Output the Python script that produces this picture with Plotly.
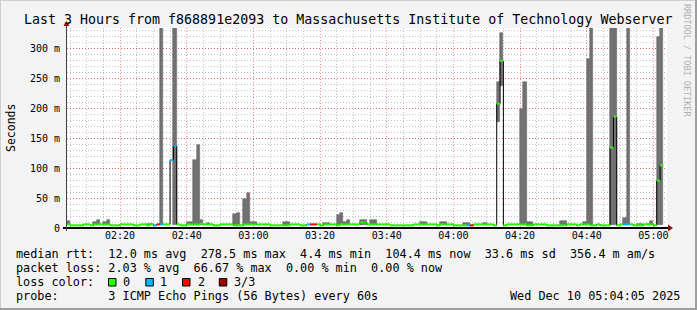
import plotly.graph_objects as go
from datetime import datetime, timedelta

# ---------------- data ----------------
T_MIN0 = datetime(2025, 12, 10, 2, 4, 0)      # start of first one-minute step
RANGE_START = datetime(2025, 12, 10, 2, 4, 5)
RANGE_END = datetime(2025, 12, 10, 5, 4, 5)

# median rtt per minute (ms), 180 steps from 02:04
median = [
    6.0, 4.4, 4.4, 4.4, 4.4, 6.0, 6.0, 4.4, 6.0, 6.0,
    6.0, 6.0, 6.0, 4.4, 4.4, 4.4, 6.0, 6.0, 6.0, 6.0,
    4.4, 4.4, 6.0, 6.0, 4.4, 6.0, 4.4, 6.0, 6.0, 6.0,
    6.0, 113.0, 137.0, 6.0, 4.4, 4.4, 6.0, 6.0, 6.0, 6.0,
    7.0, 6.0, 6.0, 6.0, 4.4, 4.4, 6.0, 6.0, 6.0, 6.0,
    4.4, 4.4, 4.4, 6.0, 6.0, 6.0, 6.0, 6.0, 6.0, 6.0,
    6.0, 4.4, 4.4, 4.4, 4.4, 4.4, 4.4, 6.0, 6.0, 6.0,
    4.4, 4.4, 6.0, 6.0, 6.0, 6.0, 4.4, 6.0, 6.0, 6.0,
    6.0, 4.4, 6.0, 6.0, 6.0, 6.0, 6.0, 6.0, 9.0, 9.0,
    6.0, 6.0, 6.0, 6.0, 6.0, 6.0, 6.0, 4.4, 4.4, 4.4,
    4.4, 4.4, 4.4, 4.4, 6.0, 6.0, 6.0, 6.0, 6.0, 6.0,
    6.0, 4.4, 6.0, 6.0, 6.0, 6.0, 4.4, 4.4, 4.4, 4.4,
    4.4, 4.4, 6.0, 6.0, 6.0, 6.0, 6.0, 6.0, 4.4, 207.0,
    278.5, 4.4, 6.0, 6.0, 6.0, 6.0, 6.0, 6.0, 4.4, 4.4,
    6.0, 6.0, 6.0, 6.0, 4.4, 4.4, 4.4, 4.4, 4.4, 4.4,
    6.0, 6.0, 6.0, 4.4, 6.0, 6.0, 6.0, 4.4, 4.4, 6.0,
    4.4, 4.4, 4.4, 134.0, 186.0, 4.4, 6.0, 6.0, 6.0, 6.0,
    4.4, 4.4, 4.4, 6.0, 6.0, 6.0, 4.4, 79.0, 104.4, None,
]

# lost pings (of 3) where not zero
loss_minute = [26, 27, 28, 31, 32, 72, 73, 74, 120, 121, 167, 168]
loss_count = [1, 2, 1, 1, 1, 1, 2, 2, 1, 2, 1, 1]

# smoke (ping spread) per minute: index, low (ms), high (ms)
smoke_minute = [0, 8, 9, 11, 12, 24, 25, 28, 32, 36, 37, 38, 39, 40, 42,
                50, 51, 53, 54, 55, 56, 65, 66, 77, 78, 81, 82, 83, 84,
                88, 89, 91, 92, 106, 107, 112, 113, 119, 120, 125, 129, 130,
                136, 137, 138, 139, 148, 149, 155, 156, 157, 163, 164, 167,
                168, 171, 172, 174, 175, 177, 178]
smoke_low = [4.4, 4.4, 4.4, 4.4, 4.4, 4.4, 4.4, 4.4, 4.4, 4.4, 4.4, 4.4, 4.4, 4.4, 4.4,
             4.4, 4.4, 4.4, 4.4, 4.4, 4.4, 4.4, 4.4, 4.4, 4.4, 4.4, 4.4, 4.4, 4.4,
             4.4, 4.4, 4.4, 4.4, 4.4, 4.4, 4.4, 4.4, 4.4, 4.4, 4.4, 177.0, 237.0,
             4.4, 4.4, 4.4, 4.4, 4.4, 4.4, 4.4, 4.4, 4.4, 4.4, 4.4, 4.4,
             4.4, 4.4, 4.4, 4.4, 4.4, 4.4, 4.4]
smoke_high = [11, 10.5, 13, 10.5, 13, 7, 7, 400, 400, 10, 10, 113, 138, 13, 8,
              23, 25, 48, 59, 10, 10, 9.5, 9.5, 8, 8, 22, 25, 10, 13,
              13, 13, 13, 13, 10, 10, 10, 10, 9, 9, 8, 243, 325,
              199, 244, 9.5, 9.5, 11.7, 11.7, 10, 281, 400, 400, 400, 17,
              400, 6.7, 6.7, 7.5, 11, 319, 400]

y_tick_vals = [0, 50, 100, 150, 200, 250, 300]
y_tick_text = ["0", "50 m", "100 m", "150 m", "200 m", "250 m", "300 m"]

loss_colors = {0: "#26ff00", 1: "#00b8ff", 2: "#ff0000", 3: "#a00000"}
loss_labels = ["0", "1", "2", "3/3"]

title_text = "Last 3 Hours from f868891e2093 to Massachusetts Institute of Technology Webserver"
legend_lines = [
    "median rtt:  12.0 ms avg  278.5 ms max  4.4 ms min  104.4 ms now  33.6 ms sd  356.4 m am/s",
    "packet loss: 2.03 % avg  66.67 % max  0.00 % min  0.00 % now",
    "loss color:",
    "probe:       3 ICMP Echo Pings (56 Bytes) every 60s",
]
date_text = "Wed Dec 10 05:04:05 2025"

# ---------------- geometry helpers (decoration only) ----------------
PL, PR, PT, PB = 67, 667, 28, 228
def px(p):
    return (p - PL) / (PR - PL)
def py(q):
    return (PB - q) / (PB - PT)

STEP = timedelta(minutes=1)
starts = [T_MIN0 + i * STEP for i in range(len(median))]

fig = go.Figure()

# smoke bars
fig.add_trace(go.Bar(
    x=[starts[i] + STEP / 2 for i in smoke_minute],
    y=[h - l for h, l in zip(smoke_high, smoke_low)],
    base=smoke_low,
    width=60000,
    marker=dict(color="#707070", line=dict(width=0.6, color="#707070")),
    hoverinfo="skip",
))

# black step median line
fig.add_trace(go.Scatter(
    x=starts + [starts[-1] + STEP],
    y=median + [median[-1]],
    mode="lines",
    line=dict(color="#000000", width=1, shape="hv"),
    connectgaps=False,
    hoverinfo="skip",
))

# colored median segments by loss
loss_of = {m: c for m, c in zip(loss_minute, loss_count)}
for c in range(4):
    xs, ys = [], []
    for i, m in enumerate(median):
        if m is None or loss_of.get(i, 0) != c:
            continue
        xs += [starts[i], starts[i] + STEP, None]
        ys += [m, m, None]
    if xs:
        fig.add_trace(go.Scatter(x=xs, y=ys, mode="lines",
                                 line=dict(color=loss_colors[c], width=2),
                                 hoverinfo="skip"))

MONO = "DejaVu Sans Mono"
shapes = []
# axes lines
shapes.append(dict(type="line", xref="paper", yref="paper", x0=px(63), x1=px(669),
                   y0=py(228), y1=py(228), line=dict(color="#000000", width=2)))
shapes.append(dict(type="line", xref="paper", yref="paper", x0=px(66.5), x1=px(66.5),
                   y0=py(231), y1=py(25), line=dict(color="#404040", width=1)))
# arrows
shapes.append(dict(type="path", xref="paper", yref="paper",
                   path=f"M {px(668)},{py(224.5)} L {px(673)},{py(228)} L {px(668)},{py(231.5)} Z",
                   fillcolor="#8b1010", line=dict(width=0)))
shapes.append(dict(type="path", xref="paper", yref="paper",
                   path=f"M {px(63.5)},{py(26)} L {px(66.5)},{py(21)} L {px(69.5)},{py(26)} Z",
                   fillcolor="#8b1010", line=dict(width=0)))
# frame shading
shapes.append(dict(type="line", xref="paper", yref="paper", x0=px(0), x1=px(697),
                   y0=py(0.5), y1=py(0.5), line=dict(color="#cfcfcf", width=1)))
shapes.append(dict(type="line", xref="paper", yref="paper", x0=px(0.5), x1=px(0.5),
                   y0=py(0), y1=py(310), line=dict(color="#cfcfcf", width=1)))
shapes.append(dict(type="line", xref="paper", yref="paper", x0=px(0), x1=px(697),
                   y0=py(309), y1=py(309), line=dict(color="#9e9e9e", width=2)))
shapes.append(dict(type="line", xref="paper", yref="paper", x0=px(696), x1=px(696),
                   y0=py(0), y1=py(310), line=dict(color="#9e9e9e", width=2)))

annotations = []
annotations.append(dict(text=title_text, xref="paper", yref="paper", x=px(348), y=py(19),
                        xanchor="center", yanchor="middle", showarrow=False,
                        font=dict(family=MONO, size=13.3, color="#000000")))
annotations.append(dict(text="Seconds", xref="paper", yref="paper", x=px(11), y=py(128),
                        xanchor="center", yanchor="middle", showarrow=False, textangle=-90,
                        font=dict(family=MONO, size=11.5, color="#000000")))
annotations.append(dict(text="RRDTOOL / TOBI OETIKER", xref="paper", yref="paper",
                        x=px(687), y=py(60), xanchor="center", yanchor="middle",
                        showarrow=False, textangle=90,
                        font=dict(family=MONO, size=8.5, color="#b0b0b0")))
line_y = [254, 268, 282, 296]
for txt, yy in zip(legend_lines, line_y):
    annotations.append(dict(text=txt.replace(" ", "&nbsp;"), xref="paper", yref="paper",
                            x=px(15), y=py(yy), xanchor="left", yanchor="middle",
                            showarrow=False, borderpad=0,
                            font=dict(family=MONO, size=11.8, color="#000000")))
annotations.append(dict(text=date_text, xref="paper", yref="paper", x=px(681), y=py(296),
                        xanchor="right", yanchor="middle", showarrow=False, borderpad=0,
                        font=dict(family=MONO, size=11.8, color="#000000")))
box_x = [108.5, 145.8, 182.5, 219.3]
lab_x = [122.0, 159.3, 196.5, 233.3]
for c, (bx, lx, lab) in enumerate(zip(box_x, lab_x, loss_labels)):
    shapes.append(dict(type="rect", xref="paper", yref="paper",
                       x0=px(bx), x1=px(bx + 7.5), y0=py(286), y1=py(278.5),
                       fillcolor=loss_colors[c], line=dict(color="#000000", width=1)))
    annotations.append(dict(text=lab, xref="paper", yref="paper", x=px(lx), y=py(282),
                            xanchor="left", yanchor="middle", showarrow=False, borderpad=0,
                            font=dict(family=MONO, size=11.8, color="#000000")))

fig.update_layout(
    width=697, height=310,
    margin=dict(l=PL, r=697 - PR, t=PT, b=310 - PB, pad=0),
    paper_bgcolor="#f3f3f3", plot_bgcolor="#ffffff",
    showlegend=False, bargap=0, barmode="overlay",
    shapes=shapes, annotations=annotations,
    xaxis=dict(
        type="date", range=[RANGE_START, RANGE_END],
        tickformat="%H:%M", dtick=20 * 60000, tick0="2025-12-10 02:00:00",
        showgrid=True, gridcolor="rgba(255,0,0,0.45)", griddash="1px,2px", gridwidth=1,
        minor=dict(dtick=5 * 60000, tick0="2025-12-10 02:00:00", showgrid=True,
                   gridcolor="rgba(120,120,120,0.45)", griddash="1px,2px", gridwidth=1),
        ticks="", showline=False, zeroline=False,
        tickfont=dict(family=MONO, size=10, color="#000000"),
    ),
    yaxis=dict(
        range=[0, 1000 / 3], tickvals=y_tick_vals, ticktext=y_tick_text,
        showgrid=True, gridcolor="rgba(255,0,0,0.45)", griddash="1px,2px", gridwidth=1,
        minor=dict(dtick=10, showgrid=True, gridcolor="rgba(120,120,120,0.45)",
                   griddash="1px,2px", gridwidth=1),
        ticks="outside", ticklen=4, tickcolor="rgba(0,0,0,0)",
        showline=False, zeroline=False,
        tickfont=dict(family=MONO, size=10, color="#000000"),
    ),
)

fig.write_html("out.html")
